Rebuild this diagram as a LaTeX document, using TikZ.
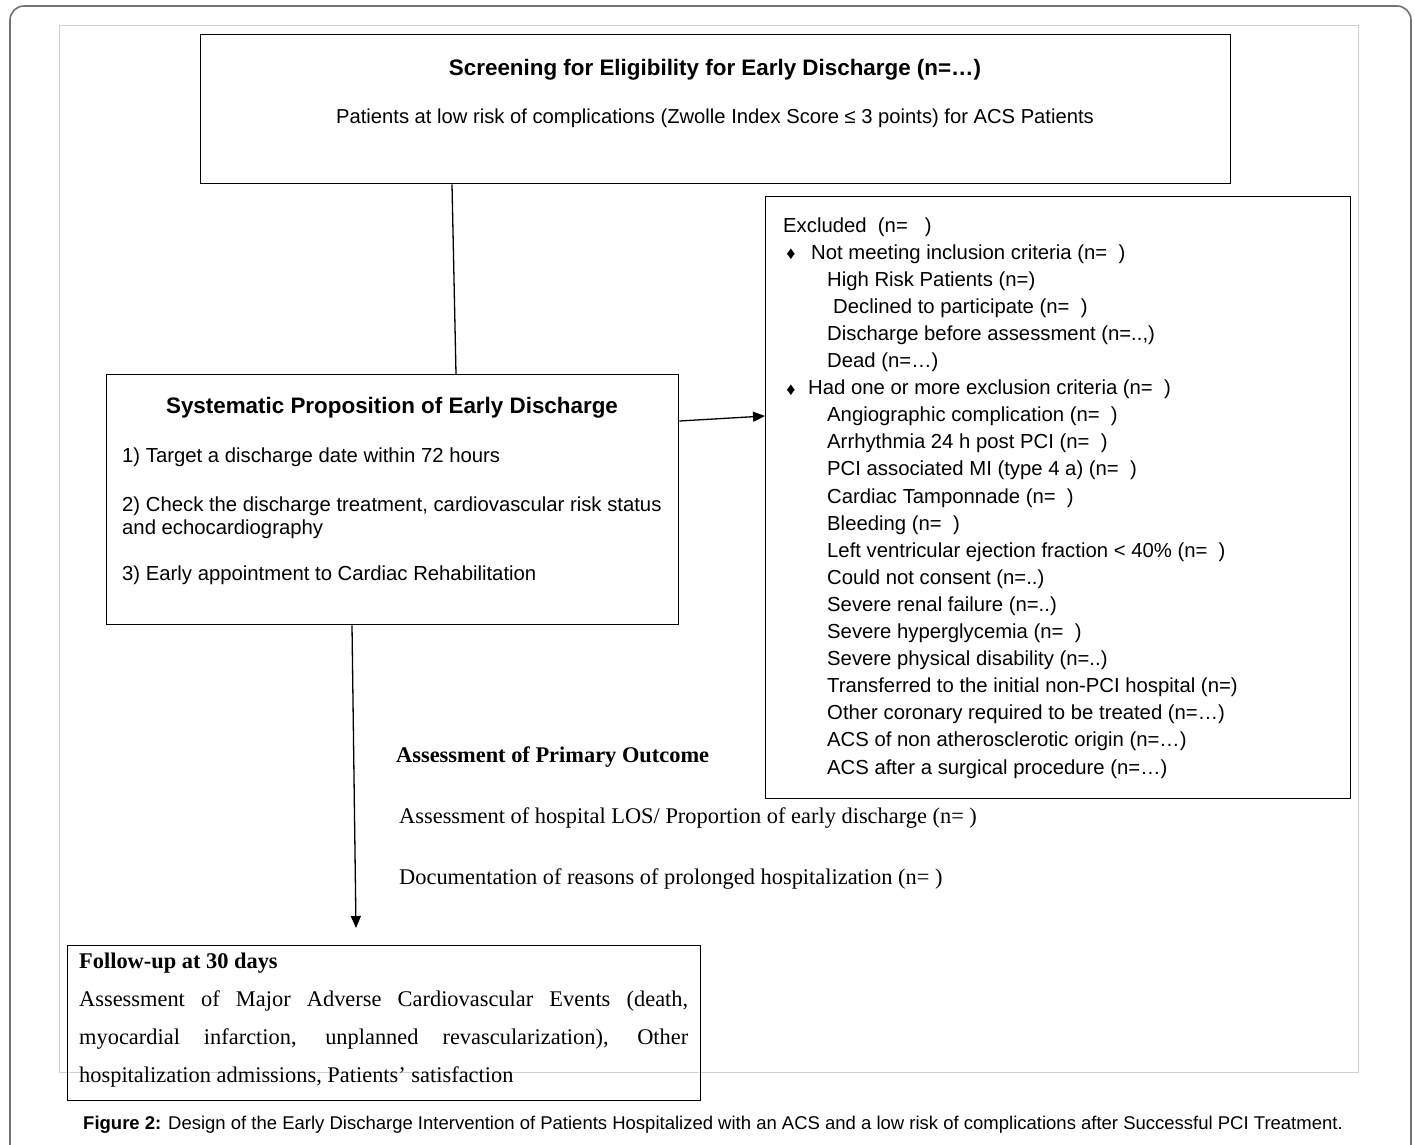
\documentclass[tikz,border=0pt]{standalone}
\usepackage{fontspec}
\setmainfont{Liberation Sans}
\newfontfamily\serifrm{Liberation Serif}
\usetikzlibrary{arrows.meta,calc}
\begin{document}
\begin{tikzpicture}[x=1pt,y=-1pt,
  box/.style={draw=black,line width=1.3pt,rectangle,inner sep=0pt,anchor=north west},
  txt/.style={inner sep=0pt,anchor=base west,font=\fontsize{20.3}{24}\selectfont},
  ctxt/.style={inner sep=0pt,anchor=base,font=\fontsize{20.2}{24}\selectfont},
  ttl/.style={inner sep=0pt,anchor=base,font=\fontsize{22.4}{26}\selectfont\bfseries},
  stxt/.style={inner sep=0pt,anchor=base west,font=\fontsize{22.4}{26}\selectfont\serifrm},
  sttl/.style={inner sep=0pt,anchor=base west,font=\fontsize{22.4}{26}\selectfont\serifrm\bfseries},
  conn/.style={draw=black,line width=1.3pt},
  arr/.style={conn,-{Triangle[length=12pt,width=10pt]}},
  dia/.style={inner sep=0pt,anchor=base,font=\fontsize{18}{20}\selectfont}
]
\useasboundingbox (0,0) rectangle (1414,1144);
\fill[white] (0,0) rectangle (1414,1144);
\draw[black!55,line width=1.6pt,rounded corners=14pt] (10,6) rectangle (1411,1200);
\draw[black!18,line width=1pt] (59,25) rectangle (1358,1072);

% top box
\node[box,minimum width=1030pt,minimum height=149pt] (screen) at (200,34) {};
\node[ttl] (screentitle) at (715,75) {Screening for Eligibility for Early Discharge (n=…)};
\node[ctxt] (screensub) at (715,123) {Patients at low risk of complications (Zwolle Index Score ≤ 3 points) for ACS Patients};

% systematic box
\node[box,minimum width=572pt,minimum height=250pt] (sys) at (106,374) {};
\node[ttl] (systitle) at (392,413) {Systematic Proposition of Early Discharge};
\node[txt] (sys1) at (122,462) {1) Target a discharge date within 72 hours};
\node[txt] (sys2) at (122,511) {2) Check the discharge treatment, cardiovascular risk status};
\node[txt] (sys3) at (122,534) {and echocardiography};
\node[txt] (sys4) at (122,580) {3) Early appointment to Cardiac Rehabilitation};

% excluded box
\node[box,minimum width=585pt,minimum height=602pt] (excl) at (765,196) {};
\node[txt] (ex0) at (783,232) {Excluded\ \ (n=\ \ \ )};
\node[dia] (exd1) at (791,259.6) {♦};
\node[txt] (ex1) at (811,259.1) {Not meeting inclusion criteria (n=\ \ )};
\node[txt] (ex2) at (827,286.2) {High Risk Patients (n=)};
\node[txt] (ex3) at (833,313.3) {Declined to participate (n=\ \ )};
\node[txt] (ex4) at (827,340.4) {Discharge before assessment (n=..,)};
\node[txt] (ex5) at (827,367.5) {Dead (n=…)};
\node[dia] (exd2) at (791,395.1) {♦};
\node[txt] (ex6) at (808,394.6) {Had one or more exclusion criteria (n=\ \ )};
\node[txt] (ex7) at (827,421.7) {Angiographic complication (n=\ \ )};
\node[txt] (ex8) at (827,448.8) {Arrhythmia 24 h post PCI (n=\ \ )};
\node[txt] (ex9) at (827,475.9) {PCI associated MI (type 4 a) (n=\ \ )};
\node[txt] (ex10) at (827,503) {Cardiac Tamponnade (n=\ \ )};
\node[txt] (ex11) at (827,530.1) {Bleeding (n=\ \ )};
\node[txt] (ex12) at (827,557.2) {Left ventricular ejection fraction < 40\% (n=\ \ )};
\node[txt] (ex13) at (827,584.3) {Could not consent (n=..)};
\node[txt] (ex14) at (827,611.4) {Severe renal failure (n=..)};
\node[txt] (ex15) at (827,638.5) {Severe hyperglycemia (n=\ \ )};
\node[txt] (ex16) at (827,665.6) {Severe physical disability (n=..)};
\node[txt] (ex17) at (827,692.7) {Transferred to the initial non-PCI hospital (n=)};
\node[txt] (ex18) at (827,719.8) {Other coronary required to be treated (n=…)};
\node[txt] (ex19) at (827,746.9) {ACS of non atherosclerotic origin (n=…)};
\node[txt] (ex20) at (827,774) {ACS after a surgical procedure (n=…)};

% primary outcome
\node[sttl] (potitle) at (396,762) {Assessment of Primary Outcome};
\node[stxt] (po1) at (399,823) {Assessment of hospital LOS/ Proportion of early discharge (n= )};
\node[stxt] (po2) at (399,884) {Documentation of reasons of prolonged hospitalization (n= )};

% follow-up box
\node[box,minimum width=633pt,minimum height=155pt] (fu) at (67,945) {};
\node[sttl] (futitle) at (79,968) {Follow-up at 30 days};
\node[stxt] (fu1) at (79,1006) {\makebox[609pt][s]{Assessment of Major Adverse Cardiovascular Events (death,}};
\node[stxt] (fu2) at (79,1044) {\makebox[609pt][s]{myocardial infarction, unplanned revascularization), Other}};
\node[stxt] (fu3) at (79,1082) {hospitalization admissions, Patients’ satisfaction};

% caption
\node[txt,font=\fontsize{18.5}{21}\selectfont] (caption) at (83,1129) {\textbf{Figure 2:} Design of the Early Discharge Intervention of Patients Hospitalized with an ACS and a low risk of complications after Successful PCI Treatment.};

% connectors
\coordinate (fuarrow) at (356,928);
\draw[conn] ($(screen.south west)+(252,0)$) -- ($(sys.north west)+(350,0)$);
\draw[arr] ($(sys.north east)+(0,47)$) -- ($(excl.north west)+(0,220)$);
\draw[arr] ($(sys.south west)+(246,0)$) -- (fuarrow);
\end{tikzpicture}
\end{document}
